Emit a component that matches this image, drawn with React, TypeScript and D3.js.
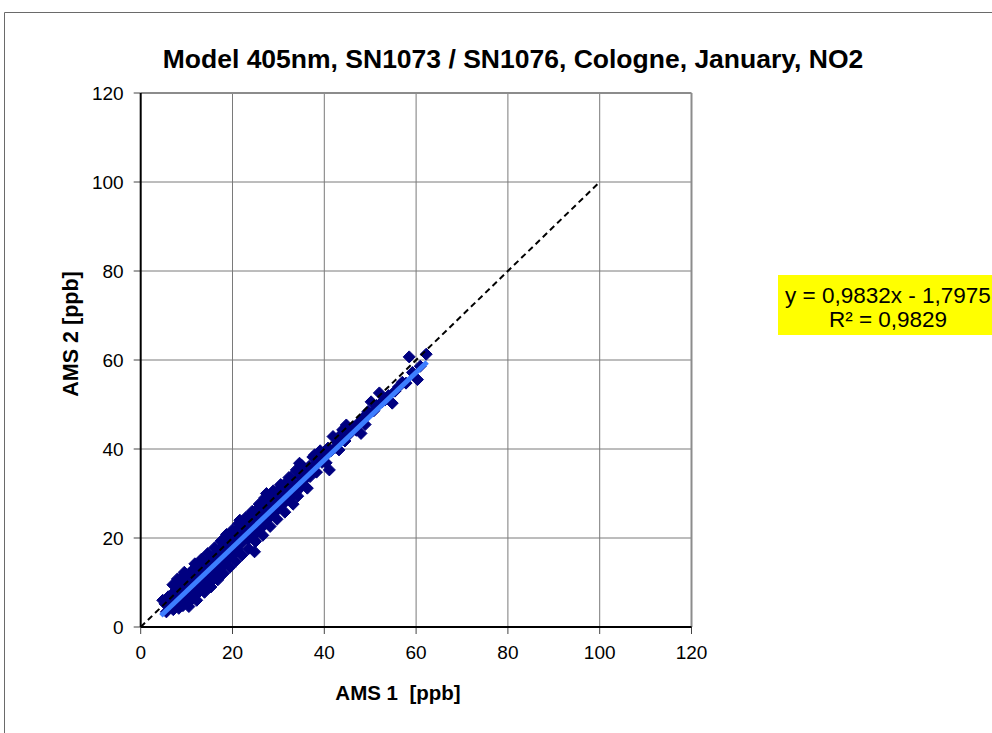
import React from "react";
import * as d3 from "d3";

const title = "Model 405nm, SN1073 / SN1076, Cologne, January, NO2";
const xLabel = "AMS 1  [ppb]";
const yLabel = "AMS 2 [ppb]";
const ticks = [0, 20, 40, 60, 80, 100, 120];
const eqLine1 = "y = 0,9832x - 1,7975";
const eqLine2 = "R² = 0,9829";
const slope = 0.9832;
const intercept = -1.7975;

const amsPoints: [number, number][] = [
  [4.8, 6.0], [5.3, 5.2], [5.6, 3.4], [6.0, 6.8], [6.2, 4.6], [6.6, 5.8], [6.9, 7.4], [7.1, 3.9],
  [7.3, 6.1], [7.6, 8.2], [7.8, 5.0], [8.0, 10.8], [8.1, 7.0], [8.3, 4.2], [8.5, 9.3], [8.7, 6.3],
  [8.9, 11.2], [9.0, 7.9], [9.2, 4.8], [9.4, 8.8], [9.6, 6.4], [9.8, 10.5], [10.0, 8.0], [10.1, 5.6],
  [10.3, 11.6], [10.5, 9.1], [10.6, 6.9], [10.8, 12.3], [11.0, 8.6], [11.1, 6.2], [11.3, 10.4],
  [11.5, 12.9], [11.6, 8.0], [11.8, 9.9], [12.0, 7.2], [12.1, 11.4], [12.3, 13.2], [12.5, 9.6],
  [12.6, 7.8], [12.8, 11.0],
  [7.0, 9.5], [9.5, 12.3], [10.5, 4.6], [11.8, 14.2], [12.2, 6.0], [13.2, 15.2], [13.9, 7.8],
  [14.6, 16.5], [15.3, 9.0], [16.1, 17.8], [16.8, 10.6], [17.5, 19.3], [18.0, 12.0], [18.7, 20.8],
  [19.4, 13.4], [20.0, 21.8], [20.7, 14.8], [21.3, 23.2], [22.1, 16.2], [22.9, 24.6], [23.5, 17.6],
  [24.3, 26.0], [25.0, 19.2], [25.8, 27.6], [26.6, 20.6], [27.0, 29.0], [28.2, 22.6], [28.9, 30.6],
  [29.7, 24.2], [30.5, 32.0], [31.4, 25.8], [32.3, 33.6], [33.2, 27.6], [34.2, 29.4], [35.0, 36.4],
  [13.0, 12.6], [13.1, 9.0], [13.3, 10.8], [13.5, 14.0], [13.6, 8.6], [13.8, 12.1], [14.0, 10.3],
  [14.2, 13.6], [14.3, 11.5], [14.5, 9.4], [14.7, 12.9], [14.9, 14.9], [15.0, 11.0], [15.2, 13.4],
  [15.4, 10.2], [15.5, 15.6], [15.7, 12.4], [15.9, 14.6], [16.0, 11.6], [16.2, 16.0], [16.4, 13.0],
  [16.5, 14.9], [16.7, 12.2], [16.9, 16.8], [17.0, 14.1], [17.2, 15.5], [17.4, 13.2], [17.6, 17.9],
  [17.7, 15.0], [17.9, 16.6], [18.1, 14.3], [18.3, 18.9], [18.4, 16.1], [18.6, 17.3], [18.8, 15.2],
  [19.0, 19.8], [19.1, 16.8], [19.3, 18.2], [19.5, 15.9], [19.7, 20.4], [19.9, 17.5], [20.1, 19.1],
  [20.3, 16.4], [20.5, 21.3], [20.6, 18.5], [20.8, 20.0], [21.0, 17.6], [21.2, 19.4], [21.4, 22.0],
  [21.6, 24.0], [21.8, 20.5], [22.0, 19.0], [22.2, 23.0], [22.4, 20.2],
  [22.6, 21.4], [22.8, 24.1], [23.0, 20.6], [23.2, 22.5], [23.4, 19.7], [23.6, 23.4], [23.8, 21.6],
  [24.0, 25.2], [24.2, 22.8], [24.4, 20.8], [24.6, 24.0], [24.8, 16.9], [24.9, 22.3], [25.1, 25.9],
  [25.3, 23.5], [25.5, 21.4], [25.7, 24.8], [25.9, 26.9], [26.1, 23.2], [26.3, 25.6], [26.5, 22.5],
  [26.7, 27.3], [26.9, 24.6], [27.1, 26.4], [27.4, 30.0], [27.3, 23.9], [27.5, 28.9], [27.7, 25.8],
  [27.9, 27.2], [28.1, 24.7], [28.4, 29.6], [28.6, 26.6], [28.8, 28.1], [29.0, 25.5], [29.3, 30.2],
  [29.5, 27.6], [29.8, 29.0], [30.0, 26.7], [30.3, 31.0], [30.6, 28.5], [30.9, 30.2], [31.2, 27.8],
  [31.5, 32.3], [31.8, 29.6], [32.1, 31.4], [32.4, 28.9], [32.7, 33.6], [33.0, 30.8], [33.3, 32.2],
  [33.6, 30.0], [33.9, 35.3], [34.0, 35.0], [34.3, 32.0], [34.6, 36.8], [34.6, 33.7], [34.9, 31.4],
  [35.3, 36.0], [35.6, 33.0], [36.0, 34.6], [36.3, 31.2], [36.7, 36.1],
  [36.9, 33.8], [37.3, 35.6], [37.5, 38.2], [37.9, 38.7], [38.0, 36.5], [38.3, 34.8], [38.7, 37.6],
  [39.1, 39.6], [39.5, 37.0], [39.9, 38.4], [40.4, 36.9], [40.8, 40.2], [41.1, 35.3], [41.5, 39.6],
  [41.9, 42.8], [42.3, 40.3], [42.8, 41.5], [43.2, 39.8], [43.6, 43.2], [44.0, 44.3], [44.5, 41.8],
  [44.8, 45.4], [45.3, 43.2], [45.8, 44.0], [46.4, 45.0], [47.0, 44.2], [47.6, 46.0], [48.0, 43.5],
  [48.4, 47.0], [48.9, 45.5], [49.5, 48.4], [50.2, 50.6], [50.8, 48.6], [51.4, 49.8], [52.0, 52.6],
  [52.6, 50.6], [53.2, 51.0], [54.0, 52.0], [54.8, 50.3], [55.4, 53.0], [56.2, 54.0], [57.0, 55.0],
  [57.8, 54.8], [58.5, 60.7], [59.2, 57.2], [60.3, 55.6], [60.9, 58.6], [62.2, 61.3],
];

const FONT = "'Liberation Sans', Arial, sans-serif";

export default function App() {
  const x = d3.scaleLinear().domain([0, 120]).range([140.7, 691.5]);
  const y = d3.scaleLinear().domain([0, 120]).range([627, 93]);
  const xs = amsPoints.map((p) => p[0]);
  const xMin = d3.min(xs)! - 0.4;
  const xMax = d3.max(xs)! + 0.2;
  const trend = d3.line<number>().x((v) => x(v)).y((v) => y(slope * v + intercept));
  const r = 6;
  const diamondPath = `M0,${-r}L${r},0L0,${r}L${-r},0Z`;

  return (
    <svg width={992} height={733} style={{ position: "absolute", left: 0, top: 0, background: "#fff" }}>
      <rect x={0} y={0} width={992} height={733} fill="#fff" />
      <path d="M4.5,733V12.5H992" fill="none" stroke="#6a6a6a" strokeWidth={1} />
      <text x={513} y={68} textAnchor="middle" fontFamily={FONT} fontWeight="bold" fontSize={26.5}>
        {title}
      </text>
      {ticks.slice(1, -1).map((t) => (
        <g key={"g" + t}>
          <line x1={x(t)} x2={x(t)} y1={y(0)} y2={y(120)} stroke="#7a7a7a" strokeWidth={1} />
          <line x1={x(0)} x2={x(120)} y1={y(t)} y2={y(t)} stroke="#7a7a7a" strokeWidth={1} />
        </g>
      ))}
      <line x1={x(0)} x2={x(120)} y1={y(120)} y2={y(120)} stroke="#8c8c8c" strokeWidth={2} />
      <line x1={x(120)} x2={x(120)} y1={y(0)} y2={y(120)} stroke="#8c8c8c" strokeWidth={2} />
      {ticks.map((t) => (
        <g key={"t" + t}>
          <line x1={x(0) - 7} x2={x(0)} y1={y(t)} y2={y(t)} stroke="#444" strokeWidth={1} />
          <line x1={x(t)} x2={x(t)} y1={y(0)} y2={y(0) + 7} stroke="#444" strokeWidth={1} />
          <text x={x(0) - 17} y={y(t) + 7} textAnchor="end" fontFamily={FONT} fontSize={19}>
            {t}
          </text>
          <text x={x(t)} y={y(0) + 32} textAnchor="middle" fontFamily={FONT} fontSize={19}>
            {t}
          </text>
        </g>
      ))}
      <line x1={x(0)} x2={x(0)} y1={y(0)} y2={y(120)} stroke="#000" strokeWidth={2} />
      <line x1={x(0)} x2={x(120)} y1={y(0)} y2={y(0)} stroke="#000" strokeWidth={2} />
      {amsPoints.map((p, i) => (
        <path key={i} d={diamondPath} transform={`translate(${x(p[0])},${y(p[1])})`} fill="#000080" stroke="#000080" strokeWidth={1} />
      ))}
      <path d={trend([xMin, xMax])!} stroke="#3d7eff" strokeWidth={5} fill="none" />
      <line x1={x(0)} y1={y(0)} x2={x(100)} y2={y(100)} stroke="#000" strokeWidth={2} strokeDasharray="6,4" />
      <text x={398} y={700} textAnchor="middle" fontFamily={FONT} fontWeight="bold" fontSize={20.5} style={{ whiteSpace: "pre" }}>
        {xLabel}
      </text>
      <text transform="translate(78,334) rotate(-90)" textAnchor="middle" fontFamily={FONT} fontWeight="bold" fontSize={21.5}>
        {yLabel}
      </text>
      <rect x={778} y={275} width={214} height={60} fill="#ffff00" />
      <text x={888} y={303} textAnchor="middle" fontFamily={FONT} fontSize={22.5}>
        {eqLine1}
      </text>
      <text x={888} y={327} textAnchor="middle" fontFamily={FONT} fontSize={22.5}>
        {eqLine2}
      </text>
    </svg>
  );
}
